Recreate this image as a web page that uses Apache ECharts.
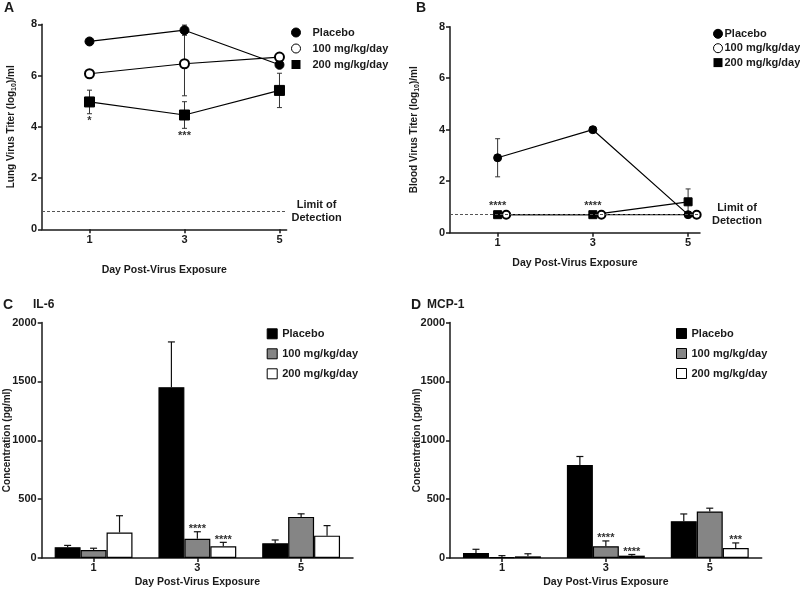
<!DOCTYPE html>
<html><head><meta charset="utf-8">
<script src="https://cdn.jsdelivr.net/npm/echarts@6/dist/echarts.min.js"></script>
<style>html,body{margin:0;padding:0;background:#fff}#c{width:800px;height:590px}</style>
</head><body><div id="c"></div>
<script>
// ---------- data ----------
const days = [1, 3, 5];
const dayLabels = ['1', '3', '5'];
const groupNames = ['Placebo', '100 mg/kg/day', '200 mg/kg/day'];
const titerTicks = [0, 2, 4, 6, 8];
const concTicks = [0, 500, 1000, 1500, 2000];

// Panel A: lung virus titer (log10/ml), mean and SD
const lungPlacebo = [7.33, 7.77, 6.42];
const lungPlaceboErr = [0.08, 0.2, 0.1];
const lung100 = [6.07, 6.46, 6.72];
const lung100Err = [0.1, 1.25, 0.1];
const lung200 = [4.97, 4.46, 5.42];
const lung200Err = [0.46, 0.52, 0.67];
const lungStars200 = ['*', '***', ''];

// Panel B: blood virus titer (log10/ml)
const bloodPlacebo = [2.91, 4.0, 0.7];
const bloodPlaceboErr = [0.74, 0.05, 0];
const blood100 = [0.7, 0.7, 0.7];
const blood100Err = [0, 0, 0];
const blood200 = [0.7, 0.7, 1.2];
const blood200Err = [0, 0, 0.5];
const bloodStars200 = ['****', '****', ''];
const limitOfDetection = 0.7;

// Panel C: IL-6 (pg/ml)
const il6Placebo = [92, 1450, 125];
const il6PlaceboErr = [15, 385, 28];
const il6Dose100 = [68, 163, 349];
const il6Dose100Err = [15, 60, 26];
const il6Dose200 = [217, 99, 190];
const il6Dose200Err = [142, 34, 85];
const il6Stars = [['', '', ''], ['', '****', ''], ['', '****', '']];

// Panel D: MCP-1 (pg/ml)
const mcpPlacebo = [42, 790, 312];
const mcpPlaceboErr = [32, 72, 62];
const mcpDose100 = [7, 100, 395];
const mcpDose100Err = [13, 45, 28];
const mcpDose200 = [14, 20, 85];
const mcpDose200Err = [22, 10, 43];
const mcpStars = [['', '', ''], ['', '****', ''], ['', '****', '***']];

// ---------- style ----------
const FONT = '"Liberation Sans", Arial, Helvetica, sans-serif';
const INK = '#1a1a1a';
const DOSE100_SHIFT = 0.18; // horizontal nudge of the 100 mg markers in panel B
const barColors = ['#000000', '#858585', '#ffffff'];

const chart = echarts.init(document.getElementById('c'), null, {renderer: 'canvas'});

function pairs(xs, ys, shift) { return xs.map((x, i) => [x + (shift || 0), ys[i]]); }

function valueXAxis(gridIndex, max, nameGap) {
  return {
    gridIndex, type: 'value', min: 0, max: max,
    name: 'Day Post-Virus Exposure', nameLocation: 'middle', nameGap: nameGap, nameMoveOverlap: false,
    nameTextStyle: {fontFamily: FONT, fontWeight: 'bold', fontSize: 10.5, color: INK},
    axisLine: {show: true, onZero: false, lineStyle: {color: INK, width: 1.5}},
    axisTick: {show: true, length: 4, customValues: days, lineStyle: {color: INK, width: 1.5}},
    axisLabel: {show: true, customValues: days, margin: 5, fontFamily: FONT, fontWeight: 'bold', fontSize: 11, color: INK},
    splitLine: {show: false}
  };
}
function catXAxis(gridIndex) {
  return {
    gridIndex, type: 'category', data: dayLabels,
    name: 'Day Post-Virus Exposure', nameLocation: 'middle', nameGap: 19, nameMoveOverlap: false,
    nameTextStyle: {fontFamily: FONT, fontWeight: 'bold', fontSize: 10.5, color: INK},
    axisLine: {show: true, lineStyle: {color: INK, width: 1.5}},
    axisTick: {show: true, alignWithLabel: true, length: 4, lineStyle: {color: INK, width: 1.5}},
    axisLabel: {margin: 4, fontFamily: FONT, fontWeight: 'bold', fontSize: 11, color: INK},
    splitLine: {show: false}
  };
}
function valueYAxis(gridIndex, ticks, name, nameGap) {
  return {
    gridIndex, type: 'value', min: ticks[0], max: ticks[ticks.length - 1],
    interval: ticks[1] - ticks[0],
    name: name, nameLocation: 'middle', nameGap: nameGap, nameMoveOverlap: false,
    nameTextStyle: {fontFamily: FONT, fontWeight: 'bold', fontSize: 10, color: INK,
      rich: {
        a: {fontFamily: FONT, fontWeight: 'bold', fontSize: 10, color: INK, lineHeight: 14, verticalAlign: 'middle'},
        s: {fontFamily: FONT, fontWeight: 'bold', fontSize: 7, color: INK, lineHeight: 14, verticalAlign: 'bottom'}
      }},
    axisLine: {show: true, lineStyle: {color: INK, width: 1.5}},
    axisTick: {show: true, length: 4, lineStyle: {color: INK, width: 1.5}},
    axisLabel: {margin: 5, fontFamily: FONT, fontWeight: 'bold', fontSize: 11, color: INK,
      formatter: v => String(v)},
    splitLine: {show: false}
  };
}

// error bars for line panels (both directions) + star annotations
function lineErrSeries(idx, xs, ys, errs, stars, starMode, shift) {
  return {
    type: 'custom', xAxisIndex: idx, yAxisIndex: idx, z: 1, silent: true,
    data: xs.map((x, i) => [x + (shift || 0), ys[i], errs[i]]),
    renderItem: function (params, api) {
      const x = api.value(0), y = api.value(1), e = api.value(2);
      const hi = api.coord([x, y + e]), lo = api.coord([x, y - e]), c = api.coord([x, y]);
      const ch = [];
      const st = {stroke: '#333', lineWidth: 1};
      if (e > 0) {
        ch.push({type: 'line', shape: {x1: hi[0], y1: hi[1], x2: lo[0], y2: lo[1]}, style: st});
        ch.push({type: 'line', shape: {x1: hi[0] - 2.5, y1: hi[1], x2: hi[0] + 2.5, y2: hi[1]}, style: st});
        ch.push({type: 'line', shape: {x1: lo[0] - 2.5, y1: lo[1], x2: lo[0] + 2.5, y2: lo[1]}, style: st});
      }
      const s = stars ? stars[params.dataIndex] : '';
      if (s) {
        const ty = starMode === 'below' ? lo[1] + 7.5 : c[1] - 9.2;
        ch.push({type: 'text', style: {text: s, x: c[0], y: ty, align: 'center', verticalAlign: 'middle',
          font: 'bold 11px ' + FONT, fill: '#333'}});
      }
      return {type: 'group', children: ch};
    }
  };
}

// one-sided error bars for bar panels + star annotations
function barErrSeries(idx, groupIdx, vals, errs, stars) {
  return {
    type: 'custom', xAxisIndex: idx, yAxisIndex: idx, z: 3, silent: true,
    data: vals.map((v, i) => [i, v, errs[i]]),
    renderItem: function (params, api) {
      const band = api.size([1, 0])[0];
      const off = (groupIdx - 1) * band * 0.25;
      const v = api.value(1), e = api.value(2);
      const b = api.coord([api.value(0), v]), t = api.coord([api.value(0), v + e]);
      const x = b[0] + off;
      const st = {stroke: '#111', lineWidth: 1.2};
      const ch = [
        {type: 'line', shape: {x1: x, y1: b[1], x2: x, y2: t[1]}, style: st},
        {type: 'line', shape: {x1: x - 3.5, y1: t[1], x2: x + 3.5, y2: t[1]}, style: st}
      ];
      const s = stars[params.dataIndex];
      if (s) {
        ch.push({type: 'text', style: {text: s, x: x, y: t[1] - 2.5, align: 'center', verticalAlign: 'middle',
          font: 'bold 11px ' + FONT, fill: '#333'}});
      }
      return {type: 'group', children: ch};
    }
  };
}

function lineSeries(idx, name, xs, ys, symbol, size, shift, extra) {
  const s = {
    type: 'line', name: name, xAxisIndex: idx, yAxisIndex: idx, z: 4,
    data: pairs(xs, ys, shift), symbol: symbol, symbolSize: size, showAllSymbol: true,
    itemStyle: {color: '#000', borderColor: '#000', borderWidth: 1},
    lineStyle: {color: '#000', width: 1.2}, animation: false
  };
  return Object.assign(s, extra || {});
}

function lodMarkLine(distance) {
  return {
    silent: true, symbol: 'none', animation: false,
    lineStyle: {type: [3, 2], color: '#555', width: 1},
    label: {show: true, position: 'end', distance: distance, align: 'center', verticalAlign: 'middle',
      formatter: 'Limit of\nDetection', fontFamily: FONT, fontWeight: 'bold', fontSize: 11, color: INK, lineHeight: 13},
    data: [{yAxis: limitOfDetection}]
  };
}

function barSeries(idx, gi, vals) {
  return {
    type: 'bar', name: groupNames[gi], xAxisIndex: idx, yAxisIndex: idx, z: 2,
    data: vals, barCategoryGap: '25%', barGap: '0%', animation: false,
    itemStyle: {color: barColors[gi], borderColor: '#000', borderWidth: 1.2}
  };
}

const legendText = {fontFamily: FONT, fontWeight: 'bold', fontSize: 11, color: INK};
const lineLegendData = [
  {name: groupNames[0], icon: 'circle', itemStyle: {color: '#000', borderColor: '#000', borderWidth: 1}},
  {name: groupNames[1], icon: 'circle', itemStyle: {color: '#fff', borderColor: '#000', borderWidth: 1}},
  {name: groupNames[2], icon: 'rect', itemStyle: {color: '#000', borderColor: '#000', borderWidth: 0}}
];
const barLegendData = groupNames.map((n, i) => ({name: n, icon: 'rect',
  itemStyle: {color: barColors[i], borderColor: '#000', borderWidth: 1}}));

const titleStyle = {fontFamily: FONT, fontWeight: 'bold', fontSize: 14, color: INK};
const subTitleStyle = {fontFamily: FONT, fontWeight: 'bold', fontSize: 12, color: INK};

const option = {
  animation: false,
  backgroundColor: '#fff',
  title: [
    {text: 'A', left: 4, top: 1, padding: 0, textStyle: titleStyle},
    {text: 'B', left: 416, top: 1, padding: 0, textStyle: titleStyle},
    {text: 'C', left: 3, top: 298, padding: 0, textStyle: titleStyle},
    {text: 'IL-6', left: 33, top: 299, padding: 0, textStyle: subTitleStyle},
    {text: 'D', left: 411, top: 298, padding: 0, textStyle: titleStyle},
    {text: 'MCP-1', left: 427, top: 299, padding: 0, textStyle: subTitleStyle}
  ],
  grid: [
    {left: 42, top: 24.3, width: 244.6, height: 205, containLabel: false, outerBoundsMode: 'none'},
    {left: 450, top: 26.7, width: 250, height: 206, containLabel: false, outerBoundsMode: 'none'},
    {left: 41.7, top: 322.5, width: 311.3, height: 235.5, containLabel: false, outerBoundsMode: 'none'},
    {left: 450, top: 322.5, width: 311.7, height: 235.5, containLabel: false, outerBoundsMode: 'none'}
  ],
  xAxis: [valueXAxis(0, 5.15, 35), valueXAxis(1, 5.25, 24.5), catXAxis(2), catXAxis(3)],
  yAxis: [
    valueYAxis(0, titerTicks, '{a|Lung Virus Titer (log}{s|10}{a|)/ml}', 24),
    valueYAxis(1, titerTicks, '{a|Blood Virus Titer (log}{s|10}{a|)/ml}', 29),
    valueYAxis(2, concTicks, 'Concentration (pg/ml)', 29),
    valueYAxis(3, concTicks, 'Concentration (pg/ml)', 28)
  ],
  legend: [
    {orient: 'vertical', left: 291, top: 27, padding: 0, itemWidth: 9, itemHeight: 9, itemGap: 5,
      textStyle: Object.assign({padding: [0, 0, 0, 7]}, legendText), data: lineLegendData, selectedMode: false},
    {orient: 'vertical', left: 713, top: 28.3, padding: 0, itemWidth: 9, itemHeight: 9, itemGap: 3.4,
      textStyle: Object.assign({padding: [0, 0, 0, -3]}, legendText), data: lineLegendData, selectedMode: false},
    {orient: 'vertical', left: 266.7, top: 328.3, padding: 0, itemWidth: 10, itemHeight: 10, itemGap: 9,
      textStyle: legendText, data: barLegendData, selectedMode: false},
    {orient: 'vertical', left: 676, top: 328, padding: 0, itemWidth: 10, itemHeight: 10, itemGap: 9,
      textStyle: legendText, data: barLegendData, selectedMode: false}
  ],
  series: [
    // Panel A
    lineErrSeries(0, days, lungPlacebo, lungPlaceboErr, null, null, 0),
    lineErrSeries(0, days, lung100, lung100Err, null, null, 0),
    lineErrSeries(0, days, lung200, lung200Err, lungStars200, 'below', 0),
    lineSeries(0, groupNames[0], days, lungPlacebo, 'circle', 9, 0, {markLine: lodMarkLine(30)}),
    lineSeries(0, groupNames[1], days, lung100, 'emptyCircle', 9, 0),
    lineSeries(0, groupNames[2], days, lung200, 'rect', 10, 0),
    // Panel B
    lineErrSeries(1, days, bloodPlacebo, bloodPlaceboErr, null, null, 0),
    lineErrSeries(1, days, blood100, blood100Err, null, null, DOSE100_SHIFT),
    lineErrSeries(1, days, blood200, blood200Err, bloodStars200, 'above', 0),
    lineSeries(1, groupNames[0], days, bloodPlacebo, 'circle', 8, 0, {markLine: lodMarkLine(37)}),
    lineSeries(1, groupNames[2], days, blood200, 'rect', 8, 0),
    lineSeries(1, groupNames[1], days, blood100, 'emptyCircle', 8, DOSE100_SHIFT),
    // Panel C
    barSeries(2, 0, il6Placebo), barSeries(2, 1, il6Dose100), barSeries(2, 2, il6Dose200),
    barErrSeries(2, 0, il6Placebo, il6PlaceboErr, il6Stars[0]),
    barErrSeries(2, 1, il6Dose100, il6Dose100Err, il6Stars[1]),
    barErrSeries(2, 2, il6Dose200, il6Dose200Err, il6Stars[2]),
    // Panel D
    barSeries(3, 0, mcpPlacebo), barSeries(3, 1, mcpDose100), barSeries(3, 2, mcpDose200),
    barErrSeries(3, 0, mcpPlacebo, mcpPlaceboErr, mcpStars[0]),
    barErrSeries(3, 1, mcpDose100, mcpDose100Err, mcpStars[1]),
    barErrSeries(3, 2, mcpDose200, mcpDose200Err, mcpStars[2])
  ]
};
chart.setOption(option);
</script>
</body></html>
